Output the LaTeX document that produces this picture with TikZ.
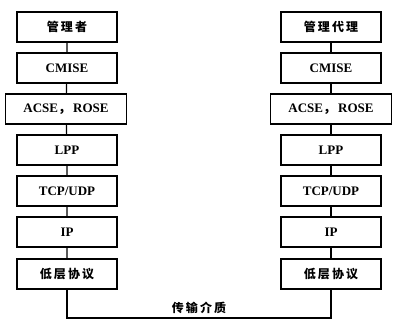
\documentclass[tikz,border=0pt]{standalone}
\usepackage{fontspec}
\setmainfont{Liberation Serif}
\newfontfamily\cjk[LetterSpace=18]{Noto Sans CJK SC}
\begin{document}
\begin{tikzpicture}[x=1pt,y=-1pt,inner sep=0pt,outer sep=0pt,line width=1.2pt,
layer/.style={draw,rectangle,minimum width=100pt,minimum height=30pt,line width=1.2pt,font=\bfseries\fontsize{13}{15}\selectfont},
widelayer/.style={layer,minimum width=121pt},
cjktext/.style={font=\cjk\bfseries\fontsize{12}{14}\selectfont}]
\useasboundingbox (0,0) rectangle (393,323);
% manager side
\draw (67,27) node[layer,cjktext] (m1) {管理者};
\draw (67,68) node[layer] (m2) {CMISE};
\draw (66,109) node[widelayer] (m3) {ACSE{\cjk ，}\,ROSE};
\draw (67,150) node[layer] (m4) {LPP};
\draw (67,191) node[layer] (m5) {TCP/UDP};
\draw (67,232) node[layer] (m6) {IP};
\draw (67,274) node[layer,cjktext] (m7) {低层协议};
% agent side
\draw (331,27) node[layer,cjktext] (a1) {管理代理};
\draw (331,68) node[layer] (a2) {CMISE};
\draw (331,109) node[widelayer] (a3) {ACSE{\cjk ，}\,ROSE};
\draw (331,150) node[layer] (a4) {LPP};
\draw (331,191) node[layer] (a5) {TCP/UDP};
\draw (331,232) node[layer] (a6) {IP};
\draw (331,274) node[layer,cjktext] (a7) {低层协议};
\draw (m1) -- (m2) -- (m3) -- (m4) -- (m5) -- (m6) -- (m7);
\draw (a1) -- (a2) -- (a3) -- (a4) -- (a5) -- (a6) -- (a7);
\coordinate (lowL) at (67,318);
\draw (m7) -- (lowL) -| node[pos=0.25,above=4pt,cjktext] (medium) {传输介质} (a7);
\end{tikzpicture}
\end{document}
